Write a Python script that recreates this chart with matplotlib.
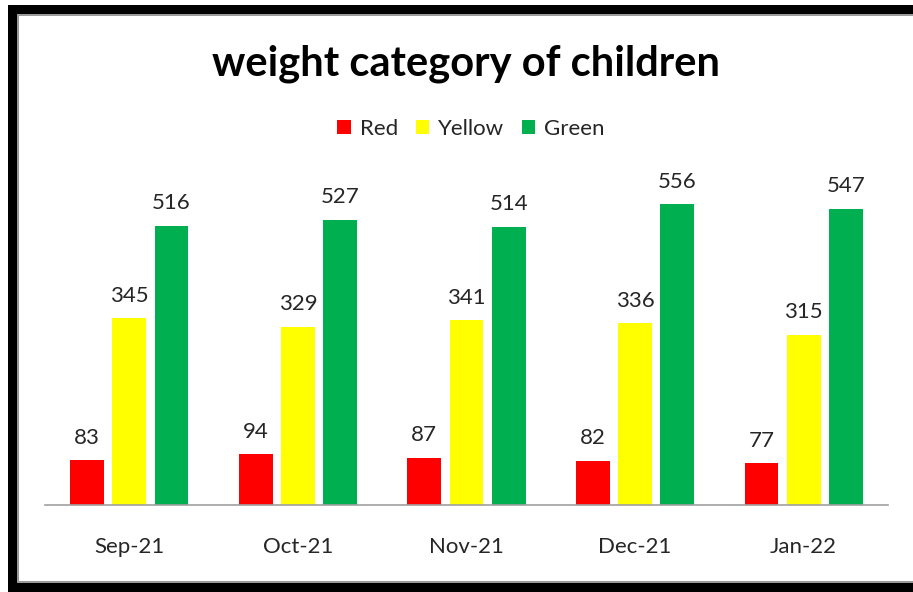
import matplotlib
matplotlib.use("Agg")
import matplotlib.pyplot as plt
from matplotlib.patches import Rectangle
import numpy as np

categories = ["Sep-21", "Oct-21", "Nov-21", "Dec-21", "Jan-22"]
red = [83, 94, 87, 82, 77]
yellow = [345, 329, 341, 336, 315]
green = [516, 527, 514, 556, 547]
series_names = ["Red", "Yellow", "Green"]
colors = ["#FF0000", "#FFFF00", "#00B050"]

W, H = 913, 592
fig = plt.figure(figsize=(W / 100, H / 100), dpi=100)
FONT = "Lato"

def fx(px):
    return px / W

def fy(py):
    return 1 - py / H

# frame
fig.add_artist(Rectangle((fx(8), fy(592)), fx(1000), fy(5) - fy(592), transform=fig.transFigure,
                         facecolor="black", edgecolor="none", zorder=-3))
fig.add_artist(Rectangle((fx(17), fy(583)), fx(1000), fy(14) - fy(583), transform=fig.transFigure,
                         facecolor="#9a9a9a", edgecolor="none", zorder=-2))
fig.add_artist(Rectangle((fx(19), fy(581)), fx(1000), fy(16) - fy(581), transform=fig.transFigure,
                         facecolor="white", edgecolor="none", zorder=-1))

ax = fig.add_axes([fx(45), fy(505), fx(888) - fx(45), fy(180.3) - fy(505)])
ax.patch.set_alpha(0)
x = np.arange(len(categories))
w = 0.2
off = 0.25
for vals, name, c, o in zip([red, yellow, green], series_names, colors, [-off, 0, off]):
    bars = ax.bar(x + o, vals, width=w, color=c, label=name, zorder=2)
    for b, v in zip(bars, vals):
        ax.annotate(str(v), (b.get_x() + b.get_width() / 2, v), xytext=(0, 9),
                    textcoords="offset points", ha="center", va="bottom",
                    fontsize=16, color="#262626", family=FONT)

ax.set_xlim(-0.5, 4.5)
ax.set_ylim(0, 600)
for s in ["top", "right", "left"]:
    ax.spines[s].set_visible(False)
ax.spines["bottom"].set_color("#a0a0a0")
ax.spines["bottom"].set_linewidth(1.2)
ax.set_yticks([])
ax.set_xticks(x)
ax.set_xticklabels(categories, fontsize=16, color="#262626", family=FONT)
ax.tick_params(axis="x", length=0, pad=23)

fig.text(fx(466), fy(64), "weight category of children", ha="center", va="center",
         fontsize=30, fontweight="bold", family=FONT, color="black")

leg = fig.legend(loc="center", bbox_to_anchor=(fx(471), fy(129)), ncol=3, frameon=False,
                 prop={"family": FONT, "size": 16}, handlelength=0.6, handleheight=0.6,
                 handletextpad=0.4, columnspacing=0.8)
for t in leg.get_texts():
    t.set_color("#262626")

fig.savefig("out.png", dpi=100)
